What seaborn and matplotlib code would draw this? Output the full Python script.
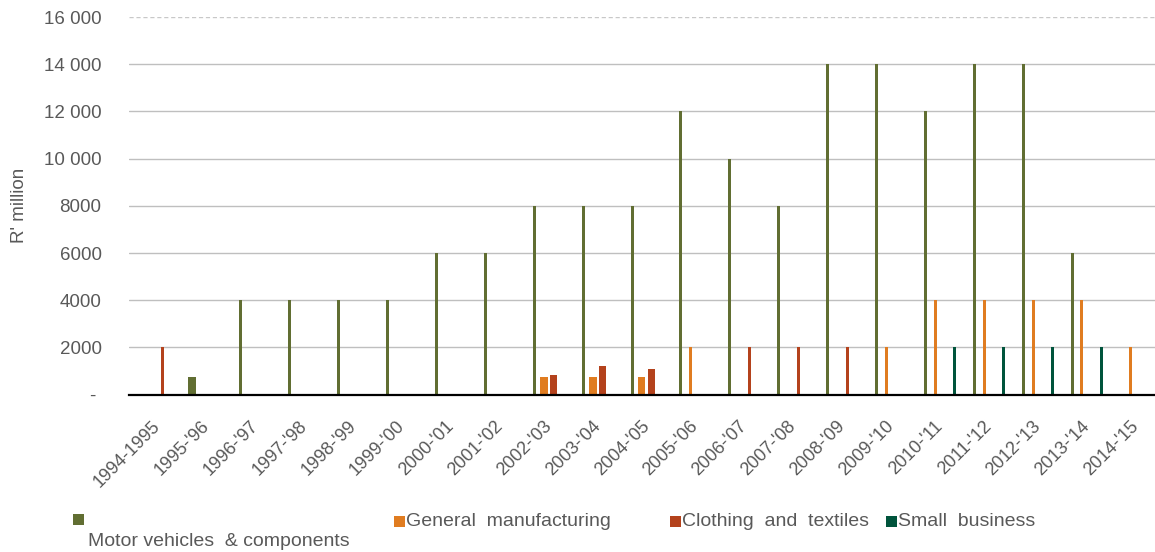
import matplotlib
matplotlib.use("Agg")
import matplotlib.pyplot as plt
from matplotlib.patches import Rectangle
import pandas as pd
import seaborn as sns

# ---- data -----------------------------------------------------------------
years = ["1994-1995", "1995-'96", "1996-'97", "1997-'98", "1998-'99", "1999-'00",
         "2000-'01", "2001-'02", "2002-'03", "2003-'04", "2004-'05", "2005-'06",
         "2006-'07", "2007-'08", "2008-'09", "2009-'10", "2010-'11", "2011-'12",
         "2012-'13", "2013-'14", "2014-'15"]

motor_vehicles = [0, 770, 4000, 4000, 4000, 4000, 6000, 6000, 8000, 8000, 8000,
                  12000, 10000, 8000, 14000, 14000, 12000, 14000, 14000, 6000, 0]
general_manufacturing = [0, 0, 0, 0, 0, 0, 0, 0, 760, 770, 770,
                         2000, 0, 0, 0, 2000, 4000, 4000, 4000, 4000, 2000]
clothing_textiles = [2000, 0, 0, 0, 0, 0, 0, 0, 850, 1220, 1080,
                     0, 2000, 2000, 2000, 0, 0, 0, 0, 0, 0]
small_business = [0, 0, 0, 0, 0, 0, 0, 0, 0, 0, 0,
                  0, 0, 0, 0, 0, 2000, 2000, 2000, 2000, 0]

series_names = ["Motor vehicles & components", "General manufacturing",
                "Clothing and textiles", "Small business"]
legend_labels = ["Motor vehicles  & components", "General  manufacturing",
                 "Clothing  and  textiles", "Small  business"]

y_ticks = [0, 2000, 4000, 6000, 8000, 10000, 12000, 14000, 16000]
y_tick_labels = ["- ", "2000", "4000", "6000", "8000", "10 000", "12 000", "14 000", "16 000"]
y_label = "R' million"

# ---- styling ----------------------------------------------------------------
colors = ["#616E32", "#E07C20", "#B4421C", "#00543C"]
text_color = "#595959"
grid_color = "#BFBFBF"

sns.set_theme(style="white")
plt.rcParams["font.family"] = ["Liberation Sans", "DejaVu Sans"]

W, H = 1155, 552
fig = plt.figure(figsize=(W / 100, H / 100), dpi=100)
ax_left, ax_right, ax_top, ax_bottom = 129.3, 1156.3, 17.0, 394.7
ax = fig.add_axes([ax_left / W, 1 - ax_bottom / H,
                   (ax_right - ax_left) / W, (ax_bottom - ax_top) / H])

frame = pd.DataFrame({
    "year": years * 4,
    "series": sum([[s] * len(years) for s in series_names], []),
    "value": motor_vehicles + general_manufacturing + clothing_textiles + small_business,
})
frame = frame[frame["value"] > 0]

# Small amounts get wider bars so they stay visible next to the large ones.
small = frame["value"] < 1500
common = dict(x="year", y="value", hue="series", order=years, hue_order=series_names,
              palette=colors, width=0.8, dodge=True, errorbar=None, saturation=1,
              linewidth=0, legend=False, ax=ax, zorder=3)
sns.barplot(data=frame[~small], gap=0.69, **common)
sns.barplot(data=frame[small], gap=0.25, **common)

# ---- axes -------------------------------------------------------------------
ax.set_xlim(-0.58, 20.42)
ax.set_ylim(0, 16000)
ax.set_xlabel("")
ax.set_ylabel(y_label, fontsize=13.5, color=text_color)
ax.yaxis.set_label_coords(-0.099, 0.5)

ax.set_yticks(y_ticks)
ax.set_yticklabels(y_tick_labels, fontsize=13.5, color=text_color)
ax.set_xticks(range(len(years)))
ax.set_xticklabels(years, fontsize=13, color=text_color, rotation=45,
                   ha="right", va="center", rotation_mode="anchor")
ax.tick_params(axis="y", length=0, pad=20)
ax.tick_params(axis="x", length=0, pad=21)

for side in ["left", "right", "top"]:
    ax.spines[side].set_visible(False)
ax.spines["bottom"].set_color("black")
ax.spines["bottom"].set_linewidth(1.6)
ax.spines["bottom"].set_zorder(4)

ax.yaxis.grid(True, color=grid_color, linewidth=1.0, zorder=0)
ax.set_axisbelow(True)
top_line = ax.get_ygridlines()[-1]
top_line.set_linestyle((0, (3, 2)))
top_line.set_color("#C8C8C8")

# ---- legend -----------------------------------------------------------------
def fx(px):
    return px / W

def fy(py):
    return 1 - py / H

marker = 11
legend_items = [
    (73, 514, 88, 541),
    (394, 516, 406, 522),
    (670, 516, 682, 522),
    (886, 516, 898, 522),
]
for (mx, my, tx, ty), label, color in zip(legend_items, legend_labels, colors):
    fig.patches.append(Rectangle((fx(mx), fy(my + marker)), marker / W, marker / H,
                                 transform=fig.transFigure, facecolor=color,
                                 edgecolor="none"))
    fig.text(fx(tx), fy(ty), label, fontsize=14, color=text_color,
             ha="left", va="center")

fig.savefig("out.png", dpi=100)
